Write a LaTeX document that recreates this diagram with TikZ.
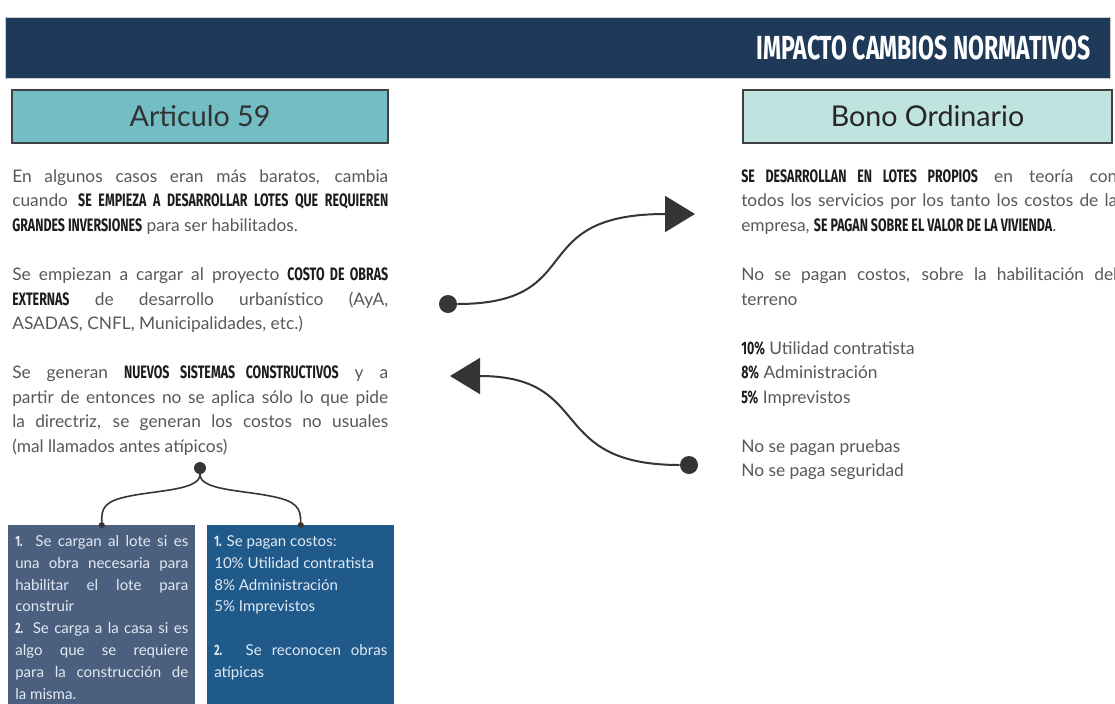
\documentclass[tikz,border=0pt]{standalone}
\usepackage{fontspec}
\setmainfont{Lato}
\newfontfamily\capsfont[FakeStretch=0.69]{Fira Sans}
\usetikzlibrary{arrows.meta,positioning}
\setlength\parindent{0pt}

\definecolor{navyband}{HTML}{1F3A59}
\definecolor{tealbox}{HTML}{72BEC4}
\definecolor{mintbox}{HTML}{BFE3DF}
\definecolor{slatebox}{HTML}{4B5F7F}
\definecolor{bluebox}{HTML}{1F5A8B}
\definecolor{bodygray}{HTML}{585858}
\definecolor{capsink}{HTML}{1C1C1C}
\definecolor{inkgray}{HTML}{353535}
\definecolor{boxtext}{HTML}{E2EAF2}

\newcommand\bigcaps[1]{{\capsfont\bfseries\color{capsink}\fontsize{13.5}{18.4}\selectfont #1}}
\newcommand\boxnum[1]{{\capsfont\bfseries #1}}
\newcommand\boxtext[1]{\begin{minipage}[t][142pt][t]{129.75pt}\fontsize{11.3}{16.4}\selectfont\strut #1\end{minipage}}

\tikzset{
  band/.style={fill=navyband,draw=black!20,minimum width=828.75pt,minimum height=45.75pt,inner sep=0pt},
  headbox/.style={draw=black!75,line width=0.9pt,minimum width=282pt,minimum height=39.75pt,inner sep=0pt,font=\fontsize{21.5}{24}\selectfont},
  para/.style={anchor=north west,inner sep=0pt,text width=282pt,align=justify,text=bodygray,font=\fontsize{13}{18.4}\selectfont},
  notebox/.style={anchor=north west,inner xsep=5.25pt,inner ysep=4.3pt,text=boxtext},
  dot/.style={circle,fill=inkgray,inner sep=0pt,minimum size=13.5pt},
  smalldot/.style={circle,fill=inkgray,inner sep=0pt,minimum size=4.5pt},
  flow/.style={draw=inkgray,line width=1.5pt,-{Triangle[length=22.5pt,width=27pt]}},
  brace/.style={draw=inkgray,line width=1.2pt}
}

\begin{document}
\begin{tikzpicture}[x=0.75pt,y=-0.75pt]
    \useasboundingbox (0,0) rectangle (1115,704);
    \fill[white] (0,0) rectangle (1115,704);
    \clip (0,0) rectangle (1115,704);

    % header band
    \node[band] (ban) at (557.5,47.5) {};
    \node[anchor=east,text=white,font=\capsfont\bfseries\fontsize{25}{25}\selectfont] (ttl) at (1095,48) {IMPACTO CAMBIOS NORMATIVOS};

    \node[headbox,fill=tealbox,text=black!80] (art) at (200,116.5) {Articulo 59};
    \node[headbox,fill=mintbox,text=black!85,minimum width=276.75pt] (bono) at (927.5,116.5) {Bono Ordinario};

    % left column
    \node[para] (left) at (12,165) {\strut En algunos casos eran más baratos, cambia\linebreak
      cuando \bigcaps{SE EMPIEZA A DESARROLLAR LOTES QUE REQUIEREN}\linebreak
      \bigcaps{GRANDES INVERSIONES} para ser habilitados.\par\vspace{18.4pt}
      Se empiezan a cargar al proyecto \bigcaps{COSTO DE OBRAS}\linebreak
      \bigcaps{EXTERNAS} de desarrollo urbanístico (AyA,\linebreak
      ASADAS, CNFL, Municipalidades, etc.)\par\vspace{18.4pt}
      Se generan \bigcaps{NUEVOS SISTEMAS CONSTRUCTIVOS} y a\linebreak
      partir de entonces no se aplica sólo lo que pide\linebreak
      la directriz, se generan los costos no usuales\linebreak
      (mal llamados antes atípicos)};

    % right column
    \node[para] (right) at (741,165) {\strut\bigcaps{SE DESARROLLAN EN LOTES PROPIOS} en teoría con\linebreak
      todos los servicios por los tanto los costos de la\linebreak
      empresa, \bigcaps{SE PAGAN SOBRE EL VALOR DE LA VIVIENDA}.\par\vspace{18.4pt}
      No se pagan costos, sobre la habilitación del\linebreak
      terreno\par\vspace{18.4pt}
      \bigcaps{10\%} Utilidad contratista\par
      \bigcaps{8\%} Administración\par
      \bigcaps{5\%} Imprevistos\par\vspace{18.4pt}
      No se pagan pruebas\par
      No se paga seguridad};

    % boxes under the brace
    \node[notebox,fill=slatebox] (b1) at (8,525) {\boxtext{\boxnum{1.} Se cargan al lote si es\linebreak
      una obra necesaria para\linebreak habilitar el lote para\linebreak construir\par
      \boxnum{2.} Se carga a la casa si es\linebreak algo que se requiere\linebreak
      para la construcción de\linebreak la misma.}};
    \node[notebox,fill=bluebox] (b2) at (207,525) {\boxtext{\boxnum{1.} Se pagan costos:\par
      10\% Utilidad contratista\par 8\% Administración\par 5\% Imprevistos\par\vspace{16.4pt}
      \boxnum{2.} Se reconocen obras\linebreak atípicas}};

    \node[dot,minimum size=9pt] (hub) at (200,468) {};
    \node[smalldot] (e1) at (b1.north) {};
    \node[smalldot] (e2) at (b2.north) {};
    \draw[brace] (hub) .. controls (200,490) and (160,490) .. (130,496)
      .. controls (104,501) and (101.5,508) .. (e1);
    \draw[brace] (hub) .. controls (200,490) and (240,490) .. (270,496)
      .. controls (297,501) and (300.5,508) .. (e2);

    % arrows between the columns
    \node[dot] (d1) at (448,304) {};
    \coordinate (t1) at (695,214);
    \draw[flow] (d1) .. controls (590,304) and (522,214) .. (t1);
    \node[dot] (d2) at (689,465) {};
    \coordinate (t2) at (450,376);
    \draw[flow] (d2) .. controls (545,465) and (595,376) .. (t2);
\end{tikzpicture}
\end{document}
